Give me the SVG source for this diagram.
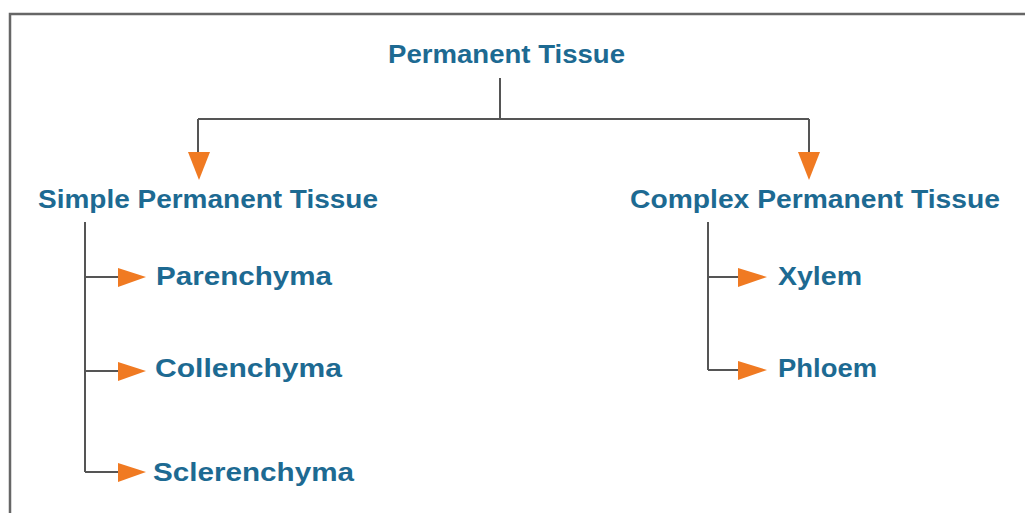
<svg xmlns="http://www.w3.org/2000/svg" width="1025" height="513" viewBox="0 0 1025 513">
<style>
.t{font-family:"Liberation Sans",Arial,sans-serif;font-weight:bold;font-size:25px;fill:#1d6a92}
.ln{stroke:#555;stroke-width:2;fill:none}
.ah{fill:#f07a22}
</style>
<rect x="0" y="0" width="1025" height="513" fill="#fff"/>
<path d="M10 513 V14 H1025" stroke="#666" stroke-width="2.5" fill="none"/>
<g id="connectors">
<path class="ln" d="M500 78 V119 M198 119 H809 M198 119 V155 M809 119 V155"/>
<polygon class="ah" points="188,152 210,152 199,180"/>
<polygon class="ah" points="798,152 820,152 809,180"/>
<path class="ln" d="M85 222 V472 M85 277 H120 M85 371 H120 M85 472 H120"/>
<polygon class="ah" points="118,268 146,277 118,287"/>
<polygon class="ah" points="118,362 146,371 118,381"/>
<polygon class="ah" points="118,463 146,472 118,482"/>
<path class="ln" d="M708 222 V370 M708 277 H740 M708 370 H740"/>
<polygon class="ah" points="738,268 767,277 738,287"/>
<polygon class="ah" points="738,361 767,370 738,380"/>
</g>
<g id="n-root"><text class="t" x="388" y="63" textLength="237" lengthAdjust="spacingAndGlyphs">Permanent Tissue</text></g>
<g id="n-simple"><text class="t" x="38" y="208" textLength="340" lengthAdjust="spacingAndGlyphs">Simple Permanent Tissue</text></g>
<g id="n-complex"><text class="t" x="630" y="208" textLength="370" lengthAdjust="spacingAndGlyphs">Complex Permanent Tissue</text></g>
<g id="n-parenchyma"><text class="t" x="156" y="285" textLength="176" lengthAdjust="spacingAndGlyphs">Parenchyma</text></g>
<g id="n-collenchyma"><text class="t" x="155" y="377" textLength="187" lengthAdjust="spacingAndGlyphs">Collenchyma</text></g>
<g id="n-sclerenchyma"><text class="t" x="153" y="481" textLength="201" lengthAdjust="spacingAndGlyphs">Sclerenchyma</text></g>
<g id="n-xylem"><text class="t" x="778" y="285" textLength="84" lengthAdjust="spacingAndGlyphs">Xylem</text></g>
<g id="n-phloem"><text class="t" x="778" y="377" textLength="99" lengthAdjust="spacingAndGlyphs">Phloem</text></g>
</svg>
